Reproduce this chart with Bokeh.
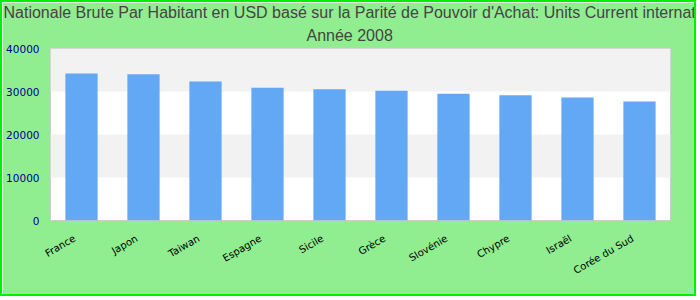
import math
from bokeh.plotting import figure
from bokeh.models import (Range1d, FixedTicker, NumeralTickFormatter,
                          Title, LinearAxis, ColumnDataSource)
from bokeh.embed import file_html
from bokeh.resources import INLINE

categories = ["France", "Japon", "Taiwan", "Espagne", "Sicile", "Grèce",
              "Slovénie", "Chypre", "Israël", "Corée du Sud"]
values = [34200, 34000, 32300, 30900, 30500, 30200, 29500, 29100, 28600, 27700]
y_ticks = [0, 10000, 20000, 30000, 40000]
title_line1 = "Nationale Brute Par Habitant en USD basé sur la Parité de Pouvoir d'Achat: Units Current internat"
title_line2 = "Année 2008"

n = len(categories)
slot = [i + 0.5 for i in range(n)]   # category slot centres
src = ColumnDataSource(dict(x=slot, top=values, name=categories))

p = figure(width=696, height=296, x_range=Range1d(0, n),
           y_range=Range1d(0, 40000), output_backend="svg", toolbar_location=None,
           title=None, min_border_left=48, min_border_right=28, min_border_top=0,
           min_border_bottom=78)
p.styles = {"border": "2px solid #00ee00"}
p.background_fill_color = "white"
p.border_fill_color = "#90EE90"
p.outline_line_color = "#cccccc"
p.outline_line_width = 1

p.vbar(x="x", top="top", source=src, width=0.52, color="#62a8f5", line_color=None)

p.xgrid.grid_line_color = None
p.ygrid.grid_line_color = None
p.ygrid.band_fill_color = "#f2f2f2"
p.ygrid.band_fill_alpha = 1.0
p.ygrid.ticker = FixedTicker(ticks=y_ticks)

p.yaxis.ticker = FixedTicker(ticks=y_ticks)
p.yaxis.formatter = NumeralTickFormatter(format="0")
p.yaxis.axis_line_color = None
p.yaxis.major_tick_line_color = None
p.yaxis.minor_tick_line_color = None
p.yaxis.major_tick_out = 0
p.yaxis.major_tick_in = 0
p.yaxis.minor_tick_out = 0
p.yaxis.major_label_text_color = "#00008b"
p.yaxis.major_label_text_font = "DejaVu Sans"
p.yaxis.major_label_text_font_size = "10.5px"
p.yaxis.major_label_standoff = 11

# hide the default axis; draw labels on a slightly shifted companion axis
p.xaxis.visible = False
shift = 0.11
p.extra_x_ranges = {"lab": Range1d(shift, n + shift)}
lab_axis = LinearAxis(x_range_name="lab", ticker=FixedTicker(ticks=slot),
                      major_label_overrides={t: c for t, c in zip(slot, categories)})
lab_axis.axis_line_color = None
lab_axis.major_tick_line_color = None
lab_axis.minor_tick_line_color = None
lab_axis.major_tick_out = 0
lab_axis.major_tick_in = 0
lab_axis.minor_tick_out = 0
lab_axis.major_label_text_color = "black"
lab_axis.major_label_text_font = "DejaVu Sans"
lab_axis.major_label_text_font_size = "10px"
lab_axis.major_label_orientation = math.pi / 6
lab_axis.major_label_standoff = 17
p.add_layout(lab_axis, "below")

t2 = Title(text=title_line2, align="left", text_font="Liberation Sans",
           text_font_size="16px", text_color="#444444", text_font_style="normal",
           offset=256, standoff=10)
t1 = Title(text=title_line1, align="left", text_font="Liberation Sans",
           text_font_size="16px", text_color="#444444", text_font_style="normal",
           offset=-47, standoff=-2)
p.add_layout(t2, "above")
p.add_layout(t1, "above")

open("out.html", "w").write(file_html(p, INLINE))
